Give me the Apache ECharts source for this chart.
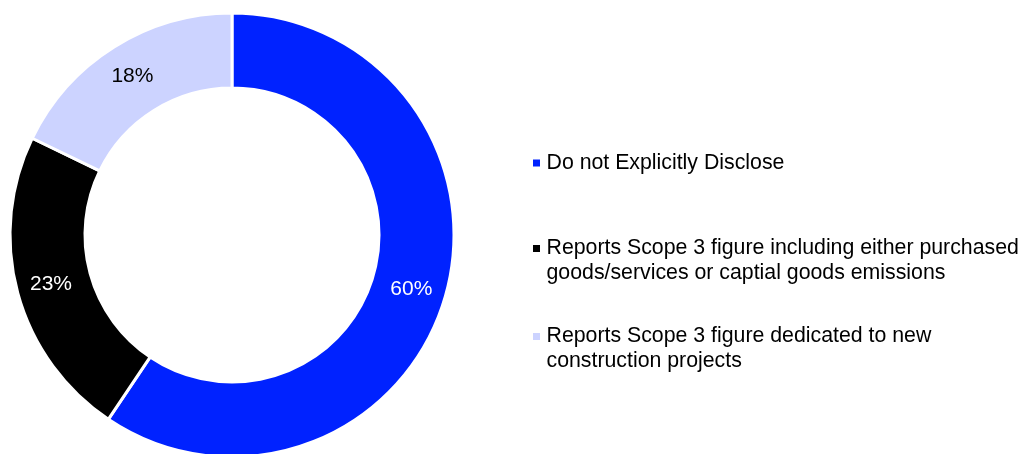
<!DOCTYPE html>
<html>
<head>
<meta charset="utf-8">
<script src="https://cdn.jsdelivr.net/npm/echarts@6/dist/echarts.min.js"></script>
<style>
  html, body { margin: 0; padding: 0; background: #ffffff; }
  #chart { width: 1022px; height: 454px; }
</style>
</head>
<body>
<div id="chart"></div>
<script>
// Share of companies by Scope 3 disclosure approach (%)
const categories = [
  'Do not Explicitly Disclose',
  'Reports Scope 3 figure including either purchased\ngoods/services or captial goods emissions',
  'Reports Scope 3 figure dedicated to new\nconstruction projects'
];
const values = [60, 23, 18];
const colors = ['#0022FF', '#000000', '#CCD3FF'];
const labelColors = ['#ffffff', '#ffffff', '#000000'];

const FONT = 'Liberation Sans, Arial, Helvetica, sans-serif';
const LINE_H = 25;

const chart = echarts.init(document.getElementById('chart'), null, { renderer: 'canvas' });

// One legend per entry; a leading blank line on wrapped entries keeps the
// marker level with the first line of text
const legendTops = [150.5, 211, 299];
const legends = categories.map((name, i) => ({
  orient: 'vertical',
  left: 533,
  top: legendTops[i],
  padding: 0,
  icon: 'rect',
  itemWidth: 7,
  itemHeight: 7,
  itemGap: 0,
  selectedMode: false,
  itemStyle: { borderWidth: 0 },
  data: [name],
  formatter: n => (n.indexOf('\n') >= 0 ? '\n' + n : n),
  textStyle: {
    fontFamily: FONT,
    fontSize: 21.3,
    lineHeight: LINE_H,
    color: '#000000',
    padding: [0, 0, 0, 1.5]
  }
}));

chart.setOption({
  animation: false,
  backgroundColor: '#ffffff',
  color: colors,
  legend: legends,
  series: [{
    type: 'pie',
    center: [232, 235],
    radius: [147, 222],
    startAngle: 90,
    clockwise: true,
    avoidLabelOverlap: false,
    itemStyle: { borderColor: '#ffffff', borderWidth: 3 },
    label: {
      show: true,
      position: 'inside',
      formatter: '{c}%',
      fontFamily: FONT,
      fontSize: 21
    },
    labelLine: { show: false },
    emphasis: { disabled: true },
    data: categories.map((name, i) => ({
      name: name,
      value: values[i],
      itemStyle: { color: colors[i] },
      label: { color: labelColors[i] }
    }))
  }]
});
</script>
</body>
</html>
